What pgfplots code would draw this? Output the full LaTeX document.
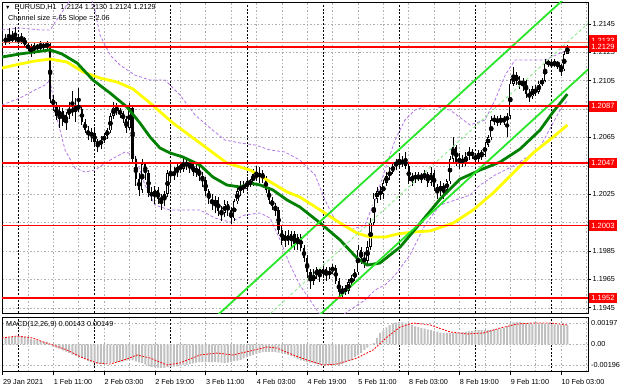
\documentclass[border=0pt]{standalone}
\usepackage{pgfplots}
\pgfplotsset{compat=1.18}
\usepackage{pgfplotstable}
\usepackage{fontspec}
\setmainfont{Liberation Sans}
\definecolor{gridc}{RGB}{175,175,175}
\definecolor{bandc}{RGB}{180,120,230}
\definecolor{chanc}{RGB}{40,230,40}
\definecolor{chanmid}{RGB}{140,235,140}
\definecolor{maG}{RGB}{0,128,0}
\definecolor{maY}{RGB}{255,255,0}
\definecolor{lvl}{RGB}{255,0,0}
\definecolor{askc}{RGB}{255,110,90}
\definecolor{histc}{RGB}{192,192,192}
\newcommand{\tf}{\fontsize{7.3}{8.5}\selectfont}

% candles: bar index, open, high, low, close (pips above 1.1900)
\pgfplotstableread{
i o h l c
-15 232 238 230 235
-14 235 242 231 233
-13 233 240 232 236
-12 236 243 232 234
-11 234 238 231 233
-10 233 239 231 235
-9 235 236 228 230
-8 230 232 226 228
-7 228 231 222 226
-6 226 232 224 230
-5 230 231 226 228
-4 228 233 227 230
-3 230 232 227 229
-2 229 233 227 231
-1 231 232 189 192
0 192 195 184 188
1 188 190 177 180
2 180 187 172 184
3 184 186 173 176
4 176 183 170 181
5 181 190 178 185
6 185 198 180 183
7 183 193 176 188
8 188 200 183 185
9 185 187 174 176
10 176 178 168 170
11 170 173 163 167
12 167 172 162 168
13 168 171 159 162
14 162 164 155 160
15 160 166 157 163
16 163 168 161 166
17 166 172 164 170
18 170 182 168 180
19 180 190 178 186
20 186 189 181 184
21 184 186 179 182
22 182 184 175 178
23 178 180 168 172
24 172 189 170 186
25 186 187 146 150
26 150 152 131 136
27 136 140 124 128
28 128 150 126 146
29 146 148 135 140
30 140 142 123 126
31 126 130 120 124
32 124 131 118 128
33 128 130 118 122
34 122 125 114 121
35 121 127 117 125
36 125 142 123 140
37 140 146 134 138
38 138 144 135 141
39 141 146 137 144
40 144 148 140 143
41 143 151 141 148
42 148 150 142 145
43 145 149 140 146
44 146 148 138 141
45 141 146 137 143
46 143 145 134 138
47 138 141 130 135
48 135 137 124 127
49 127 129 118 122
50 122 125 114 118
51 118 124 112 121
52 121 123 110 113
53 113 117 106 112
54 112 121 109 118
55 118 120 110 114
56 114 116 104 108
57 108 122 106 120
58 120 130 118 127
59 127 134 124 131
60 131 134 126 129
61 129 137 127 134
62 134 136 130 133
63 133 143 131 139
64 139 145 134 137
65 137 144 133 140
66 140 142 133 136
67 136 138 126 128
68 128 130 118 121
69 121 123 114 117
70 117 119 110 114
71 114 116 97 100
72 100 103 89 92
73 92 99 88 96
74 96 100 89 92
75 92 99 88 97
76 97 99 86 90
77 90 97 86 95
78 95 97 85 87
79 87 89 77 80
80 80 82 66 70
81 70 72 58 64
82 64 72 61 68
83 68 74 65 72
84 72 73 63 69
85 69 75 66 72
86 72 74 64 68
87 68 74 65 71
88 71 76 69 73
89 73 75 62 64
90 64 66 53 56
91 56 60 52 58
92 58 61 54 57
93 57 65 55 63
94 63 68 60 66
95 66 72 64 70
96 70 89 68 86
97 86 88 76 80
98 80 84 73 78
99 78 92 76 88
100 88 108 86 105
101 105 126 103 122
102 122 130 119 127
103 127 131 121 125
104 125 135 122 133
105 133 141 131 138
106 138 144 135 141
107 141 147 139 145
108 145 150 142 148
109 148 154 143 146
110 146 152 144 149
111 149 155 143 145
112 145 147 132 134
113 134 140 131 138
114 138 141 133 136
115 136 141 134 138
116 138 140 133 137
117 137 142 135 139
118 139 141 130 133
119 133 144 131 140
120 140 142 127 130
121 130 132 122 127
122 127 134 124 131
123 131 133 122 128
124 128 136 126 134
125 134 152 132 150
126 150 165 147 158
127 158 160 145 148
128 148 154 143 150
129 150 153 144 147
130 147 155 145 152
131 152 158 149 155
132 155 157 150 152
133 152 154 147 150
134 150 156 148 154
135 154 156 149 153
136 153 162 151 160
137 160 167 158 165
138 165 180 163 177
139 177 181 174 178
140 178 180 173 176
141 176 181 174 178
142 178 180 174 177
143 177 182 165 180
144 180 206 178 203
145 203 215 201 209
146 209 211 202 205
147 205 208 199 202
148 202 207 198 205
149 205 206 193 196
150 196 199 190 194
151 194 201 192 199
152 199 202 194 197
153 197 205 196 203
154 203 207 201 205
155 205 220 204 217
156 217 220 215 218
157 218 219 214 216
158 216 220 215 218
159 218 219 213 216
160 216 217 208 213
161 213 226 212 224
162 224 230 224 229
}\candles

% MACD main (units of 0.00001)
\pgfplotstableread{
i m
-15 62
-14 66
-13 70
-12 75
-11 78
-10 74
-9 68
-8 60
-7 50
-6 44
-5 36
-4 30
-3 26
-2 22
-1 2
0 -25
1 -34
2 -43
3 -56
4 -68
5 -80
6 -96
7 -106
8 -115
9 -128
10 -140
11 -156
12 -168
13 -175
14 -182
15 -185
16 -182
17 -178
18 -175
19 -172
20 -168
21 -166
22 -160
23 -154
24 -148
25 -150
26 -160
27 -170
28 -176
29 -190
30 -204
31 -212
32 -214
33 -218
34 -222
35 -220
36 -215
37 -213
38 -210
39 -206
40 -200
41 -196
42 -194
43 -185
44 -178
45 -172
46 -168
47 -166
48 -166
49 -166
50 -166
51 -168
52 -170
53 -172
54 -175
55 -172
56 -165
57 -158
58 -152
59 -145
60 -133
61 -120
62 -108
63 -100
64 -90
65 -80
66 -74
67 -72
68 -72
69 -72
70 -74
71 -78
72 -82
73 -90
74 -100
75 -112
76 -125
77 -138
78 -150
79 -158
80 -166
81 -172
82 -180
83 -186
84 -190
85 -194
86 -196
87 -196
88 -195
89 -194
90 -194
91 -185
92 -172
93 -158
94 -150
95 -120
96 -98
97 -80
98 -52
99 -30
100 -5
101 12
102 60
103 106
104 130
105 158
106 180
107 196
108 204
109 209
110 206
111 202
112 196
113 182
114 168
115 160
116 152
117 146
118 140
119 134
120 126
121 118
122 110
123 106
124 106
125 106
126 108
127 110
128 112
129 115
130 118
131 122
132 126
133 130
134 133
135 134
136 134
137 134
138 136
139 140
140 145
141 150
142 155
143 170
144 195
145 205
146 209
147 207
148 203
149 199
150 196
151 192
152 190
153 190
154 190
155 192
156 190
157 189
158 186
159 184
160 182
161 180
162 181
}\macd

\begin{document}
\begin{tikzpicture}[x=1bp,y=1bp]
\fill[white] (0,0) rectangle (620,388);
\path[use as bounding box] (0,0) rectangle (620,388);

\begin{axis}[
  at={(2bp,75bp)}, anchor=south west, scale only axis,
  width=586bp, height=311bp,
  xmin=-16.17, xmax=168.5, ymin=41.3, ymax=260.5,
  axis line style={black, line width=0.8bp},
  xtick={-16,-8,...,168}, xticklabels={}, xmajorgrids,
  ytick={45,65,...,245},
  yticklabels={1.1945,1.1965,1.1985,1.2005,1.2025,1.2045,1.2065,1.2085,1.2105,1.2125,1.2145},
  ymajorgrids, ytick pos=right, yticklabel pos=right,
  grid style={gridc, dash pattern=on 1.5bp off 2bp, line width=0.5bp},
  major tick length=3bp, tick align=outside,
  xtick style={draw=none},
  ytick style={black, line width=0.6bp},
  yticklabel style={font=\tf, anchor=west, inner xsep=1.5bp},
]
\pgfplotsinvokeforeach{-11,13,37,61,85,109,133,157}{
  \draw[black, dash pattern=on 2bp off 1.6bp, line width=0.7bp] (axis cs:#1,41.3) -- (axis cs:#1,260.5);
}
% Bollinger bands
\addplot[bandc, line width=0.8bp, dash pattern=on 3bp off 2bp] coordinates {
(-16.2,240.8) (-10.5,242.2) (-4.2,240.8) (-1.0,240.8) (2.1,251.3) (5.3,261.9) (8.4,269.0) (11.6,265.4) (13.1,254.9) (14.7,237.3) (17.9,223.1) (21.0,216.1) (25.7,209.0) (30.5,205.5) (35.2,205.5) (39.9,195.0) (44.7,180.8) (49.4,171.7) (54.1,163.2) (58.9,161.1) (63.6,159.7) (68.3,156.2) (73.0,154.8) (77.7,149.1) (82.5,138.5) (85.6,120.9) (88.8,106.8) (93.5,99.8) (98.2,103.3) (101.4,120.9) (104.5,142.1) (107.7,163.2) (110.8,177.3) (114.0,184.4) (118.7,187.9) (125.0,184.4) (131.3,173.8) (136.0,177.3) (139.2,191.4) (142.4,209.0) (145.5,219.6) (150.2,219.6) (155.0,219.6) (159.7,224.5) (162.2,226.7)};
\addplot[bandc, line width=0.8bp, dash pattern=on 3bp off 2bp] coordinates {
(-16.2,187.9) (-10.5,192.8) (-5.8,198.5) (-2.6,202.0) (-1.0,205.5) (0.5,184.4) (3.7,156.2) (6.8,143.5) (10.0,140.7) (13.1,142.1) (17.9,149.1) (22.6,154.8) (25.7,152.6) (28.9,131.5) (32.0,117.4) (36.8,113.9) (41.5,113.9) (46.2,113.9) (51.0,108.2) (55.7,105.4) (60.4,110.4) (65.2,111.8) (68.3,108.2) (71.5,92.7) (74.6,75.1) (77.7,61.0) (80.9,50.4) (84.1,39.8) (88.8,36.3) (93.5,43.4) (98.2,50.4) (101.4,57.5) (104.5,61.0) (107.7,68.0) (112.4,82.1) (117.1,103.3) (121.9,117.4) (126.6,120.9) (131.3,124.4) (134.5,131.5) (139.2,138.5) (142.4,142.1) (145.5,145.6) (150.2,152.6) (153.4,158.3) (159.7,184.4) (162.2,191.4)};
% wicks
\addplot[only marks, mark=none, error bars/.cd, y dir=both, y explicit, error mark=none,
  error bar style={draw=black, line width=0.75bp}]
  table[x=i, y expr={(\thisrow{h}+\thisrow{l})/2}, y error expr={(\thisrow{h}-\thisrow{l})/2}] {\candles};
% bear bodies
\addplot[only marks, mark=none, restrict expr to domain={\thisrow{o}-\thisrow{c}}{0.01:1000},
  error bars/.cd, y dir=both, y explicit, error mark=none,
  error bar style={draw=black, line width=2.3bp}]
  table[x=i, y expr={(\thisrow{o}+\thisrow{c})/2}, y error expr={(\thisrow{o}-\thisrow{c})/2}] {\candles};
% bull bodies
\addplot[only marks, mark=none, restrict expr to domain={\thisrow{c}-\thisrow{o}}{0:1000},
  error bars/.cd, y dir=both, y explicit, error mark=none,
  error bar style={draw=black, line width=2.3bp}]
  table[x=i, y expr={(\thisrow{o}+\thisrow{c})/2}, y error expr={max((\thisrow{c}-\thisrow{o})/2,0.35)}] {\candles};
\addplot[only marks, mark=none, restrict expr to domain={\thisrow{c}-\thisrow{o}}{0:1000},
  error bars/.cd, y dir=both, y explicit, error mark=none,
  error bar style={draw=white, line width=0.9bp}]
  table[x=i, y expr={(\thisrow{o}+\thisrow{c})/2}, y error expr={max((\thisrow{c}-\thisrow{o})/2-0.55,0)}] {\candles};
% moving averages
\addplot[maY, line width=2.8bp] coordinates {
(-16.2,214.0) (-10.5,216.8) (-5.8,218.9) (-1.0,220.3) (4.3,218.2) (9.4,211.2) (14.7,206.9) (20.1,204.1) (25.1,199.2) (30.5,189.3) (37.7,175.2) (46.2,161.1) (54.7,147.0) (62.0,142.1) (67.4,135.0) (73.7,126.6) (77.7,123.0) (84.1,113.9) (90.4,104.7) (95.7,97.6) (99.8,94.8) (104.5,94.8) (108.3,96.9) (113.4,98.4) (118.7,99.1) (126.0,104.7) (132.3,113.9) (138.6,125.9) (144.9,139.9) (151.2,154.1) (157.5,165.3) (162.0,173.8)};
\addplot[maG, line width=2.8bp] coordinates {
(-16.2,221.7) (-10.5,223.9) (-5.8,225.3) (-1.0,226.7) (2.7,223.9) (7.5,217.5) (12.5,205.5) (17.9,196.3) (23.2,186.5) (27.3,175.2) (30.5,165.3) (33.6,157.6) (36.8,154.1) (40.9,151.2) (46.2,145.6) (50.3,137.1) (54.7,131.5) (58.9,130.1) (62.0,132.9) (65.2,131.5) (69.2,128.0) (73.7,120.9) (77.7,116.0) (84.1,104.7) (90.4,92.7) (95.7,80.0) (98.9,75.1) (102.9,76.5) (109.3,87.8) (114.6,101.9) (121.9,121.6) (128.2,135.7) (134.5,142.1) (140.8,147.7) (147.1,156.9) (153.4,170.3) (157.5,183.0) (162.0,195.6)};
% regression channel
\addplot[chanc, line width=1.8bp] coordinates {(46.2,28.4) (168.5,278.1)};
\addplot[chanc, line width=1.8bp] coordinates {(77.8,27.4) (168.5,212.9)};
\addplot[chanmid, line width=0.9bp, dash pattern=on 3bp off 2.5bp] coordinates {(62.0,27.9) (168.5,245.5)};
% levels
\addplot[askc, line width=0.9bp] coordinates {(-16.17,232) (168.5,232)};
\addplot[lvl, line width=1.8bp] coordinates {(-16.17,229) (168.5,229)};
\addplot[lvl, line width=1.8bp] coordinates {(-16.17,187) (168.5,187)};
\addplot[lvl, line width=1.8bp] coordinates {(-16.17,147) (168.5,147)};
\addplot[lvl, line width=1.8bp] coordinates {(-16.17,103) (168.5,103)};
\addplot[lvl, line width=1.8bp] coordinates {(-16.17,52) (168.5,52)};
\coordinate (Lask) at (axis cs:168.5,233.3);
\coordinate (L1) at (axis cs:168.5,229);
\coordinate (L2) at (axis cs:168.5,187);
\coordinate (L3) at (axis cs:168.5,147);
\coordinate (L4) at (axis cs:168.5,103);
\coordinate (L5) at (axis cs:168.5,52);
\end{axis}

\begin{axis}[
  at={(2bp,16.3bp)}, anchor=south west, scale only axis,
  width=586bp, height=54.7bp,
  xmin=-16.17, xmax=168.5, ymin=-257, ymax=256,
  axis line style={black, line width=0.8bp},
  xtick={-16,-8,...,168}, xticklabels={}, xmajorgrids,
  ytick={-196,0,197}, yticklabels={-0.00196,0.00,0.00197},
  ymajorgrids, ytick pos=right, yticklabel pos=right,
  grid style={gridc, dash pattern=on 1.5bp off 2bp, line width=0.5bp},
  major tick length=0bp, tick align=outside,
  ytick style={black, line width=0.6bp},
  yticklabel style={font=\tf, anchor=west, inner xsep=1bp, xshift=2bp},
  xtick pos=left,
  extra x ticks={-16,0,16,32,48,64,80,96,112,128,144,160},
  extra x tick labels={29 Jan 2021,1 Feb 11:00,2 Feb 03:00,2 Feb 19:00,3 Feb 11:00,4 Feb 03:00,4 Feb 19:00,5 Feb 11:00,8 Feb 03:00,8 Feb 19:00,9 Feb 11:00,10 Feb 03:00},
  extra x tick style={grid=none, major tick length=3bp, tick style={black, line width=0.6bp},
    xticklabel style={font=\tf, anchor=north west, inner xsep=0.3bp, yshift=-1.5bp}},
]
\pgfplotsinvokeforeach{-11,13,37,61,85,109,133,157}{
  \draw[black, dash pattern=on 2bp off 1.6bp, line width=0.7bp] (axis cs:#1,-257) -- (axis cs:#1,256);
}
\addplot[ybar, bar width=0.62, bar shift=0pt, fill=histc, draw=none] table[x=i, y=m] {\macd};
\addplot[red, line width=0.8bp, dash pattern=on 1.8bp off 1.4bp] coordinates {
(-16.2,59) (-11.4,78) (-6.4,59) (-3.2,22) (-0.1,-7) (4.3,-53) (9.4,-129) (13.8,-175) (17.9,-185) (23.2,-138) (26.4,-100) (30.5,-129) (35.8,-194) (39.9,-175) (46.2,-100) (51.6,-82) (56.6,-100) (62.0,-63) (67.4,-25) (70.5,-35) (75.6,-100) (79.9,-147) (85.0,-194) (89.4,-185) (95.7,-129) (100.8,-53) (105.2,68) (109.3,162) (113.4,200) (118.8,181) (125.1,115) (130.5,97) (135.5,106) (140.9,153) (146.2,190) (151.2,200) (156.6,200) (162,181)};
\end{axis}

% price boxes
\tikzset{pbox/.style={fill=lvl, text=white, font=\fontsize{7.6}{8.5}\selectfont, anchor=west, inner xsep=2.6bp, inner ysep=1.2bp, minimum height=10.5bp}}
\node[pbox] at ([xshift=0.5bp]Lask) {1.2133};
\node[pbox] at ([xshift=0.5bp]L1) {1.2129};
\node[pbox] at ([xshift=0.5bp]L2) {1.2087};
\node[pbox] at ([xshift=0.5bp]L3) {1.2047};
\node[pbox] at ([xshift=0.5bp]L4) {1.2003};
\node[pbox] at ([xshift=0.5bp]L5) {1.1952};

% texts
\node[anchor=west, font=\tf, inner sep=0pt] at (5,381) {\fontsize{5.5}{6}\selectfont▼\tf\ \ EURUSD,H1\ \ 1.2124 1.2130 1.2124 1.2129};
\node[anchor=west, font=\tf, inner sep=0pt] at (8,369) {Channel size = 65 Slope = 2.06};
\node[anchor=west, font=\tf, inner sep=0pt] at (6,63) {MACD(12,26,9) 0.00143 0.00149};
\end{tikzpicture}
\end{document}
